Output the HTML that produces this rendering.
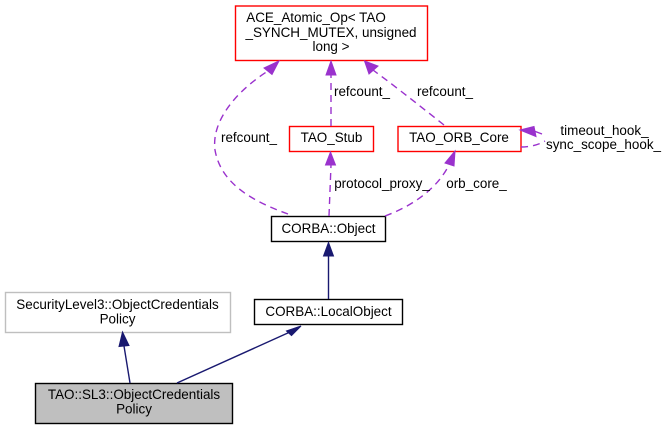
<!DOCTYPE html>
<html><head><meta charset="utf-8"><style>
html,body{margin:0;padding:0;background:#fff}
svg{display:block}
text{font-family:"Liberation Sans",sans-serif;font-size:13.45px;fill:#000;text-anchor:middle}
.d{fill:none;stroke:#9a32cd;stroke-width:1.4;stroke-dasharray:7,5}
.s{fill:none;stroke:#191970;stroke-width:1.4}
.ap{fill:#9a32cd;stroke:#9a32cd}
.an{fill:#191970;stroke:#191970}
</style></head><body>
<svg width="667" height="429" viewBox="0 0 667 429" xmlns="http://www.w3.org/2000/svg">
<rect x="35.5" y="383.5" width="197" height="40" fill="#bfbfbf" stroke="#000" stroke-width="1.4"/>
<text x="134" y="399">TAO::SL3::ObjectCredentials</text>
<text x="134" y="413.500">Policy</text>
<rect x="5.5" y="292.5" width="225" height="40" fill="#fff" stroke="#bfbfbf" stroke-width="1.4"/>
<text x="117.500" y="309">SecurityLevel3::ObjectCredentials</text>
<text x="117.500" y="323.500">Policy</text>
<rect x="254.5" y="299.5" width="148" height="25" fill="#fff" stroke="#000" stroke-width="1.4"/>
<text x="328.5" y="316">CORBA::LocalObject</text>
<rect x="271.5" y="216.5" width="114" height="25" fill="#fff" stroke="#000" stroke-width="1.4"/>
<text x="328.5" y="233">CORBA::Object</text>
<rect x="289.5" y="126.5" width="84" height="25" fill="#fff" stroke="#f00" stroke-width="1.4"/>
<text x="331.5" y="142">TAO_Stub</text>
<rect x="398" y="126.5" width="123" height="25" fill="#fff" stroke="#f00" stroke-width="1.4"/>
<text x="459" y="142">TAO_ORB_Core</text>
<rect x="235.5" y="6" width="192" height="54.5" fill="#fff" stroke="#f00" stroke-width="1.4"/>
<text x="316" y="22">ACE_Atomic_Op&lt; TAO</text>
<text x="331" y="37">_SYNCH_MUTEX, unsigned</text>
<text x="331" y="51">long &gt;</text>

<path class="s" d="M130,383 L124,346"/>
<polygon class="an" points="119,346.500 129,345.500 122.500,332"/>
<path class="s" d="M177,383 L290,332"/>
<polygon class="an" points="286.500,331 291.500,335.500 301,326"/>
<path class="s" d="M328.5,299 L328.5,254"/>
<polygon class="an" points="323.500,256 333.500,256 328.500,242.500"/>

<path class="d" d="M329,216 L331,165"/>
<polygon class="ap" points="325.500,165 335.500,165 330.500,152"/>
<path class="d" d="M331,126 L331,74"/>
<polygon class="ap" points="326,75 336,75 331,61"/>
<path class="d" d="M288,214 C255,202 221,185 215,150 C211,120 238,90 268,71"/>
<polygon class="ap" points="264,68 272,74.500 279,61"/>
<path class="d" d="M444,125 C425,110 400,90 373,70"/>
<polygon class="ap" points="369,74 378,66 364.500,61"/>
<path class="d" d="M385,216 C415,205 438,187 449,165"/>
<polygon class="ap" points="445,163 454,166 455,151"/>
<path class="d" d="M521,147 C532,147 540,144 545,141"/>
<path class="d" d="M534,131 L542,134" style="stroke-dasharray:none"/>
<polygon class="ap" points="534,126.500 536,136.500 520,130"/>

<text x="249" y="142">refcount_</text>
<text x="362" y="96">refcount_</text>
<text x="445" y="96">refcount_</text>
<text x="604.500" y="135">timeout_hook_</text>
<text x="603.500" y="149">sync_scope_hook_</text>
<text x="382" y="188">protocol_proxy_</text>
<text x="476.500" y="188">orb_core_</text>
</svg>
</body></html>
